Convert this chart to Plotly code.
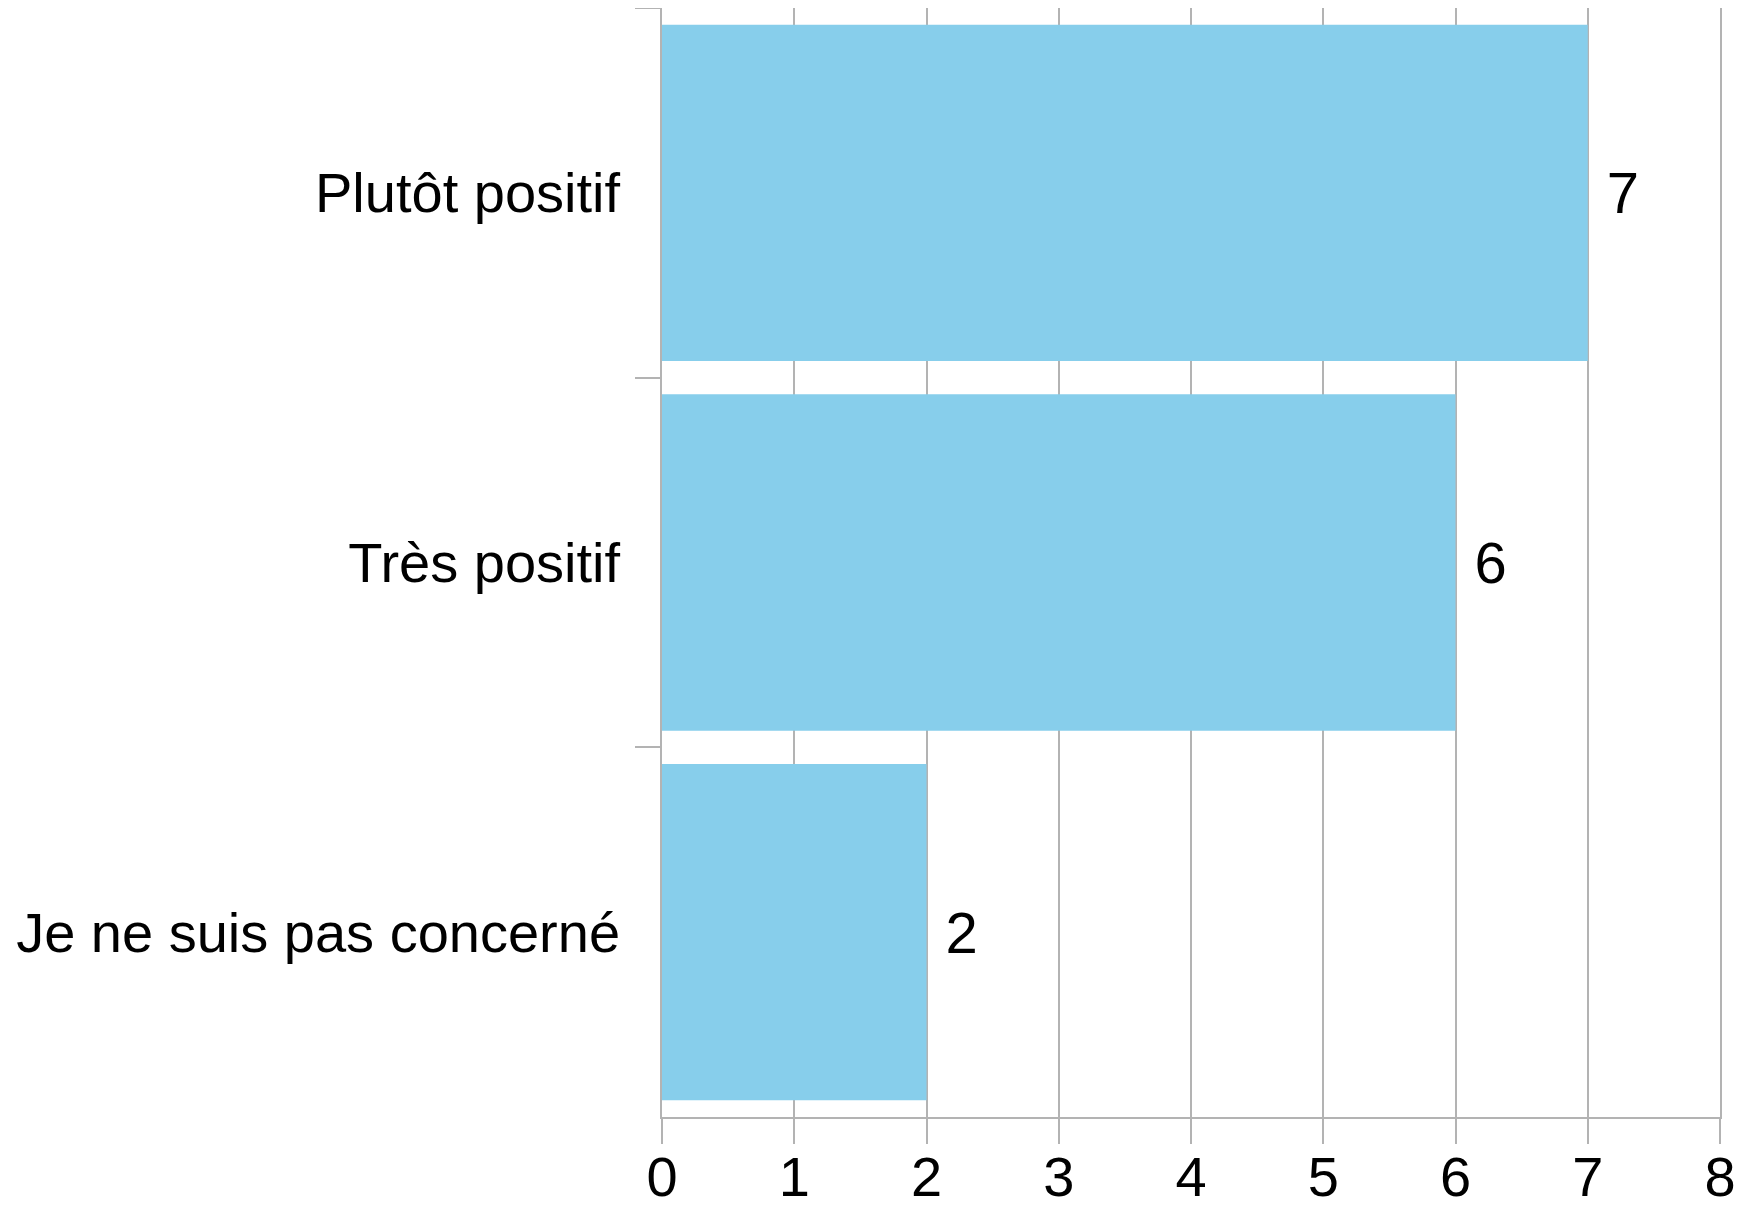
import plotly.graph_objects as go

# answers, listed top to bottom as in the chart
categories = ["Plutôt positif", "Très positif", "Je ne suis pas concerné"]
counts = [7, 6, 2]
x_ticks = [0, 1, 2, 3, 4, 5, 6, 7, 8]

GRID = "#b3b3b3"
FAMILY = "Liberation Sans, Arial, sans-serif"
LABEL_FONT = dict(family=FAMILY, size=56, color="black")
NUM_FONT = dict(family=FAMILY, size=58, color="black")
TICK_FONT = dict(family=FAMILY, size=56, color="black")

fig = go.Figure(go.Bar(
    x=counts,
    y=categories,
    orientation="h",
    marker=dict(color="#87CEEB", line=dict(width=0)),
    text=["\u00a0" + str(c) for c in counts],
    textposition="outside",
    textfont=NUM_FONT,
    constraintext="none",
    cliponaxis=False,
    hoverinfo="skip",
))

# page body has an 8px margin, so the figure is offset by it
fig.update_layout(
    width=1726,
    height=1204,
    plot_bgcolor="white",
    paper_bgcolor="white",
    font=LABEL_FONT,
    bargap=0.09,
    showlegend=False,
    margin=dict(t=0, b=95, l=654, r=14),
    xaxis=dict(
        range=[0, 8],
        tickvals=x_ticks,
        ticks="outside",
        ticklen=25,
        tickwidth=1.5,
        tickcolor=GRID,
        ticklabelstandoff=-15,
        showgrid=True,
        gridcolor=GRID,
        gridwidth=1.5,
        showline=True,
        linecolor=GRID,
        linewidth=1.5,
        mirror=True,
        zeroline=False,
        tickfont=TICK_FONT,
        automargin=False,
        ticklabeloverflow="allow",
    ),
    yaxis=dict(
        autorange="reversed",
        ticks="outside",
        tickson="boundaries",
        ticklen=25,
        tickwidth=1.5,
        tickcolor=GRID,
        ticklabelstandoff=29,
        showgrid=False,
        showline=True,
        linecolor=GRID,
        linewidth=1.5,
        mirror=True,
        tickfont=LABEL_FONT,
        automargin=False,
    ),
)

fig.write_html("out.html")
